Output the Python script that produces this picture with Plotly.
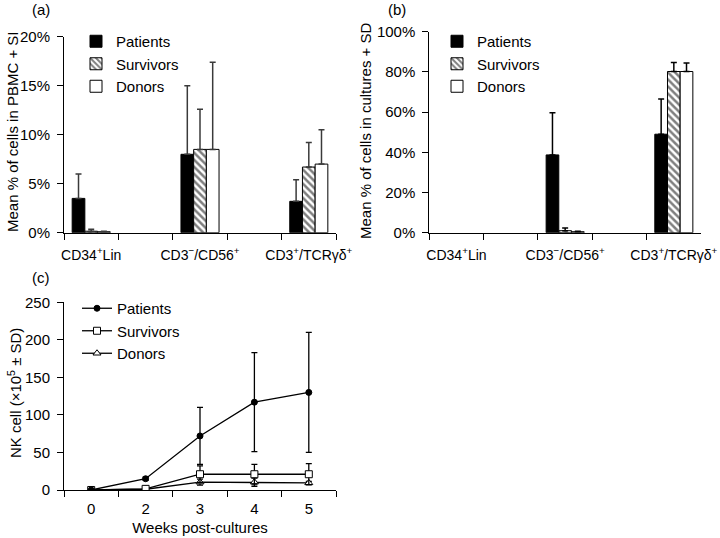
import plotly.graph_objects as go

# ---------------- data ----------------
cats = ["CD34<sup>+</sup>Lin", " ", "CD3<sup>−</sup>/CD56<sup>+</sup>", "  ", "CD3<sup>+</sup>/TCRγδ<sup>+</sup>"]
bar_cats = [cats[0], cats[2], cats[4]]

# panel (a): % of cells in PBMC (mean, SD)
pat_a = [3.5, 8.0, 3.2]
pat_a_sd = [2.5, 7.0, 2.2]
sur_a = [0.15, 8.5, 6.7]
sur_a_sd = [0.2, 4.1, 2.5]
don_a = [0.1, 8.5, 7.0]
don_a_sd = [0.05, 8.9, 3.5]
ticks_a = [0, 5, 10, 15, 20]
ticklabels_a = ["0%", "5%", "10%", "15%", "20%"]

# panel (b): % of cells in cultures (mean, SD)
pat_b = [None, 38.7, 49.0]
pat_b_sd = [None, 21.0, 17.5]
sur_b = [None, 1.0, 80.2]
sur_b_sd = [None, 1.3, 4.5]
don_b = [None, 0.5, 80.2]
don_b_sd = [None, 0.2, 4.2]
ticks_b = [0, 20, 40, 60, 80, 100]
ticklabels_b = ["0%", "20%", "40%", "60%", "80%", "100%"]

# panel (c): NK cells (x10^5)
weeks = ["0", "2", "3", "4", "5"]
pat_c = [0, 15, 72, 117, 130]
pat_c_sd = [0, 2, 38, 66, 80]
sur_c = [0, 1.5, 21, 21, 21]
sur_c_sd = [0, 1, 11, 13, 14]
don_c = [0, 1, 10.5, 10.5, 9.5]
don_c_sd = [0, 0.5, 4, 5.5, 2]
ticks_c = [0, 50, 100, 150, 200, 250]

FONT = "Liberation Sans, Arial, Helvetica, sans-serif"
FS = 15
W, H = 720, 538

fig = go.Figure()

def add_bars(vals, sds, name, xa, ya, leg, err_col, style):
    if style == "solid":
        marker = dict(color="black", line=dict(color="black", width=1))
    elif style == "hatch":
        marker = dict(color="white", line=dict(color="black", width=1),
                      pattern=dict(shape="\\", fgcolor="black", bgcolor="white",
                                   size=5, solidity=0.5))
    else:
        marker = dict(color="white", line=dict(color="black", width=1))
    fig.add_trace(go.Bar(
        x=bar_cats, y=vals, name=name, xaxis=xa, yaxis=ya, legend=leg,
        marker=marker,
        error_y=dict(type="data", array=sds, symmetric=False,
                     arrayminus=[0 if v is not None else None for v in sds],
                     color=err_col, thickness=1.5, width=3),
    ))

add_bars(pat_a, pat_a_sd, "Patients", "x", "y", "legend", "#3a3a3a", "solid")
add_bars(sur_a, sur_a_sd, "Survivors", "x", "y", "legend", "#3a3a3a", "hatch")
add_bars(don_a, don_a_sd, "Donors", "x", "y", "legend", "#3a3a3a", "open")
add_bars(pat_b, pat_b_sd, "Patients", "x2", "y2", "legend2", "black", "solid")
add_bars(sur_b, sur_b_sd, "Survivors", "x2", "y2", "legend2", "black", "hatch")
add_bars(don_b, don_b_sd, "Donors", "x2", "y2", "legend2", "black", "open")

def add_line(vals, sds, name, symbol, fill):
    fig.add_trace(go.Scatter(
        x=weeks, y=vals, name=name, xaxis="x3", yaxis="y3", legend="legend3",
        mode="lines+markers",
        line=dict(color="black", width=1.3),
        marker=dict(symbol=symbol, size=7 if symbol != "circle" else 6,
                    color=fill, line=dict(color="black", width=1)),
        error_y=dict(type="data", array=sds, color="black", thickness=1.3, width=3),
    ))

add_line(don_c, don_c_sd, "Donors", "triangle-up", "white")
add_line(sur_c, sur_c_sd, "Survivors", "square", "white")
add_line(pat_c, pat_c_sd, "Patients", "circle", "black")

def px_x(p):
    return p / W

def px_y(p):
    return 1 - p / H

axis_common = dict(showline=True, linecolor="black", linewidth=1, ticks="outside",
                   ticklen=6, tickcolor="black", tickwidth=1, showgrid=False,
                   zeroline=False, automargin=False,
                   tickfont=dict(size=FS, color="black", family=FONT))

cat_axis = dict(axis_common, type="category", categoryorder="array", categoryarray=cats,
                tickson="boundaries", range=[-0.5, 4.5], tickangle=0,
                ticklabelstandoff=9, tickfont=dict(size=14, color="black", family=FONT))

def label(text, x, y, angle=0):
    return dict(text=text, x=px_x(x), y=px_y(y), xref="paper", yref="paper",
                xanchor="center", yanchor="middle", showarrow=False,
                textangle=angle, font=dict(size=FS, family=FONT, color="black"))

fig.update_layout(
    width=W, height=H,
    margin=dict(l=0, r=0, t=0, b=0),
    paper_bgcolor="white", plot_bgcolor="white",
    font=dict(family=FONT, size=FS, color="black"),
    barmode="group", bargap=0.3, bargroupgap=0,
    xaxis=dict(cat_axis, domain=[px_x(64), px_x(336)], anchor="y"),
    yaxis=dict(axis_common, domain=[px_y(232.7), px_y(36.7)], anchor="x", range=[0, 20],
               tickmode="array", tickvals=ticks_a, ticktext=ticklabels_a,
               ticklabelstandoff=4),
    xaxis2=dict(cat_axis, domain=[px_x(429.3), px_x(701)], anchor="y2"),
    yaxis2=dict(axis_common, domain=[px_y(232.7), px_y(31.7)], anchor="x2", range=[0, 100],
                tickmode="array", tickvals=ticks_b, ticktext=ticklabels_b,
                ticklabelstandoff=4),
    xaxis3=dict(axis_common, type="category", categoryorder="array", categoryarray=weeks,
                tickson="boundaries", range=[-0.5, 4.5], tickangle=0,
                ticklabelstandoff=5,
                domain=[px_x(64), px_x(336)], anchor="y3",
                title=dict(text="Weeks post-cultures", standoff=6, font=dict(size=FS))),
    yaxis3=dict(axis_common, domain=[px_y(490), px_y(302.3)], anchor="x3", range=[0, 250],
                tickmode="array", tickvals=ticks_c, ticklabelstandoff=4),
    legend=dict(x=px_x(76), y=px_y(25), xanchor="left", yanchor="top",
                bgcolor="rgba(0,0,0,0)", font=dict(size=FS), tracegroupgap=0),
    legend2=dict(x=px_x(437), y=px_y(25), xanchor="left", yanchor="top",
                 bgcolor="rgba(0,0,0,0)", font=dict(size=FS), tracegroupgap=0),
    legend3=dict(x=px_x(77), y=px_y(292), xanchor="left", yanchor="top",
                 bgcolor="rgba(0,0,0,0)", font=dict(size=FS), tracegroupgap=0,
                 traceorder="reversed"),
    annotations=[
        label("(a)", 41, 9),
        label("(b)", 397, 9),
        label("(c)", 41, 277),
        label("Mean % of cells in PBMC + SI", 12, 132, -90),
        label("Mean % of cells in cultures + SD", 366, 131, -90),
        label("NK cell (×10<sup>5</sup> ± SD)", 14, 393, -90),
    ],
)

# remove the page's default 8px body margin so the figure fills the window
fig.write_html("out.html", config={"displayModeBar": False},
               post_script="document.body.style.margin='0';")
